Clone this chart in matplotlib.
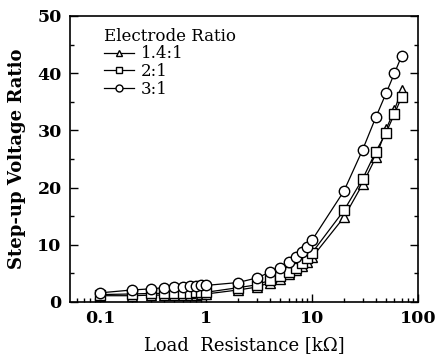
import matplotlib
matplotlib.use("Agg")
import matplotlib.pyplot as plt
from matplotlib.ticker import NullFormatter, MultipleLocator
from matplotlib.lines import Line2D

x = [0.1, 0.2, 0.3, 0.4, 0.5, 0.6, 0.7, 0.8, 0.9, 1,
     2, 3, 4, 5, 6, 7, 8, 9, 10,
     20, 30, 40, 50, 60, 70]
r14 = [1.1, 1.1, 1.2, 1.2, 1.2, 1.3, 1.3, 1.3, 1.4, 1.4,
       2.1, 2.6, 3.4, 4.1, 4.9, 5.6, 6.3, 7.0, 7.8,
       14.8, 20.6, 25.3, 30.2, 33.6, 37.0]
r2 = [1.3, 1.4, 1.5, 1.5, 1.6, 1.6, 1.6, 1.7, 1.7, 1.7,
      2.5, 3.0, 3.8, 4.6, 5.3, 6.0, 6.8, 7.7, 8.6,
      16.0, 21.5, 26.3, 29.6, 32.9, 35.8]
r3 = [1.6, 2.1, 2.3, 2.5, 2.6, 2.7, 2.8, 2.8, 2.9, 2.9,
      3.4, 4.2, 5.2, 6.0, 7.0, 7.8, 8.7, 9.7, 10.8,
      19.4, 26.6, 32.3, 36.5, 40.0, 43.0]
labels = ["1.4:1", "2:1", "3:1"]
markers = ["^", "s", "o"]
xticks = [0.1, 1, 10, 100]
xticklabels = ["0.1", "1", "10", "100"]

font = "DejaVu Serif"
fig = plt.figure(figsize=(4.41, 3.57), dpi=100)
ax = fig.add_axes([70/441, 1 - 302/357, (418-70)/441, (302-16)/357])

for y, m in zip([r14, r2, r3], markers):
    ax.plot(x, y, color="black", lw=0.9, marker=m, ms=7 if m != "o" else 7.5,
            mfc="white", mec="black", mew=1.0)

ax.set_xscale("log")
ax.set_xlim(0.052, 100)
ax.set_ylim(0, 50)
ax.set_xticks(xticks)
ax.set_xticklabels(xticklabels)
ax.xaxis.set_minor_formatter(NullFormatter())
ax.yaxis.set_major_locator(MultipleLocator(10))
ax.yaxis.set_minor_locator(MultipleLocator(5))
ax.tick_params(which="both", direction="in", top=False, right=True, width=1)
ax.tick_params(which="major", length=6, labelsize=12.5, pad=6)
ax.tick_params(which="minor", length=3)
for lab in ax.get_xticklabels() + ax.get_yticklabels():
    lab.set_fontfamily(font)
    lab.set_fontweight("bold")
for s in ax.spines.values():
    s.set_linewidth(1.2)

ax.set_xlabel("Load  Resistance [kΩ]", fontfamily=font, fontsize=13, labelpad=6)
ax.set_ylabel("Step-up Voltage Ratio", fontfamily=font, fontsize=13, fontweight="bold", labelpad=8)

handles = [Line2D([0], [0], color="black", lw=0.9, marker=m, ms=5, mfc="white", mec="black")
           for m in markers]
leg = ax.legend(handles, labels, title="Electrode Ratio", loc="upper left",
                bbox_to_anchor=(0.065, 1.0), frameon=False,
                prop={"family": font, "size": 12}, handlelength=1.8,
                handletextpad=0.4, labelspacing=0.05, borderpad=0.2)
leg.get_title().set_fontfamily(font)
leg.get_title().set_fontsize(12)
leg._legend_box.align = "left"

fig.savefig("out.png", dpi=100)
